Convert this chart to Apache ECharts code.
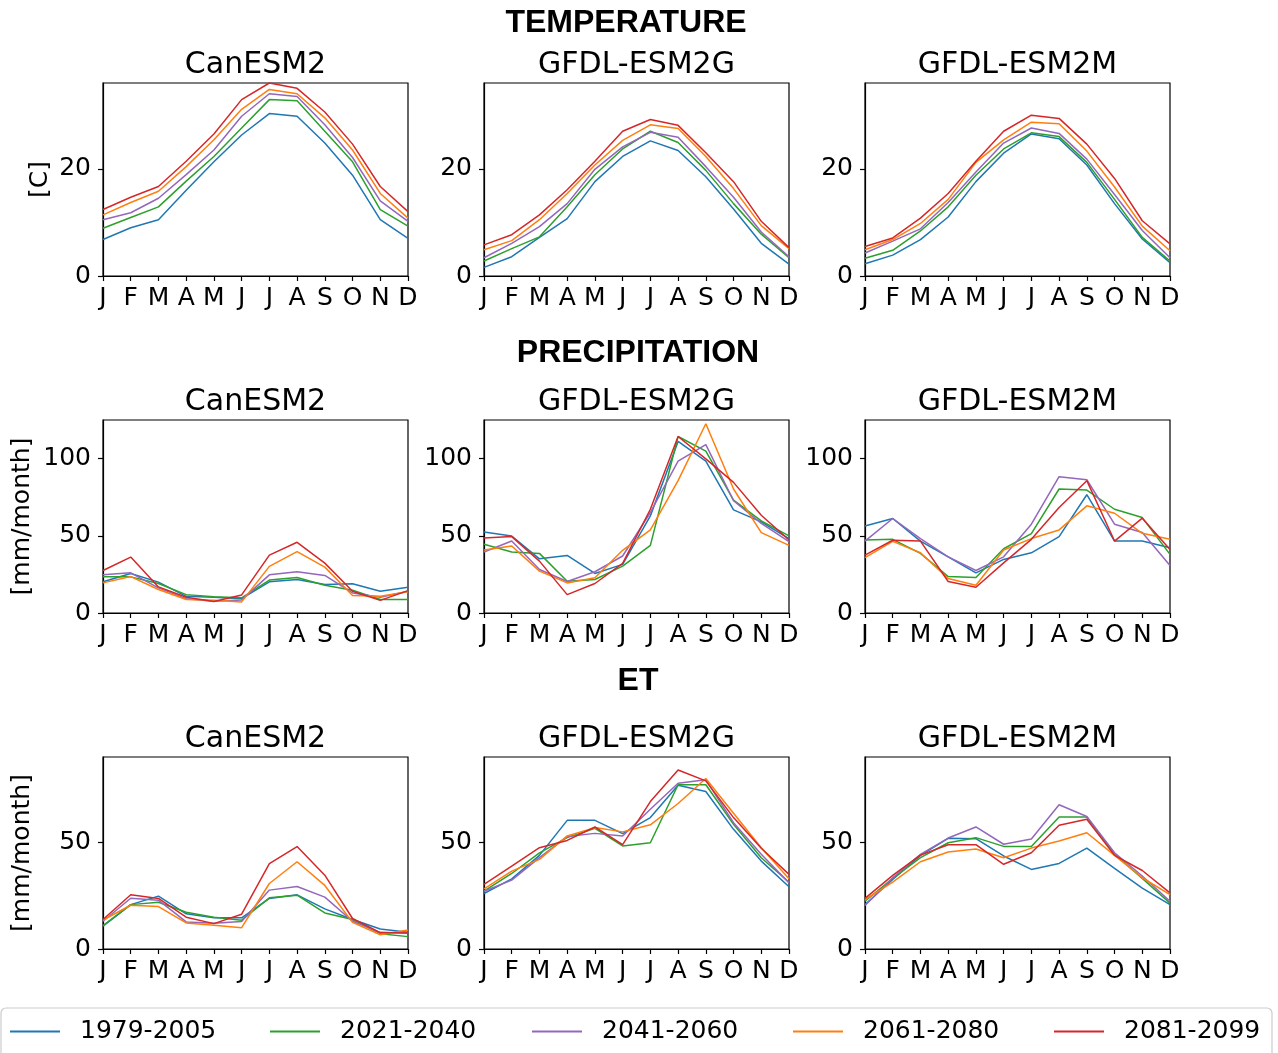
<!DOCTYPE html>
<html>
<head>
<meta charset="utf-8">
<script src="https://cdn.jsdelivr.net/npm/echarts@6/dist/echarts.min.js"></script>
<style>
  html, body { margin: 0; padding: 0; background: #fff; }
  #chart { width: 1278px; height: 1053px; }
</style>
</head>
<body>
<div id="chart"></div>
<script>
// Month initials along every x axis
const months = ['J', 'F', 'M', 'A', 'M', 'J', 'J', 'A', 'S', 'O', 'N', 'D'];

// Periods and their colours
const periods = ['1979-2005', '2021-2040', '2041-2060', '2061-2080', '2081-2099'];
const periodColors = ['#1f77b4', '#2ca02c', '#9467bd', '#ff7f0e', '#d62728'];

const models = ['CanESM2', 'GFDL-ESM2G', 'GFDL-ESM2M'];

// ---------- Temperature [C] ----------
const tempCanESM2 = [
  [6.8, 9.0, 10.5, 16.0, 21.3, 26.3, 30.3, 29.8, 24.8, 18.8, 10.5, 7.0],
  [8.9, 10.9, 12.9, 17.7, 22.3, 27.6, 32.9, 32.7, 27.0, 21.3, 12.4, 9.3],
  [10.5, 11.8, 14.5, 18.9, 23.5, 29.8, 34.0, 33.5, 28.2, 22.1, 14.0, 10.2],
  [11.4, 13.7, 15.8, 20.4, 25.4, 31.1, 34.8, 34.0, 29.5, 23.5, 15.4, 10.8],
  [12.4, 14.7, 16.7, 21.4, 26.5, 32.9, 36.0, 35.0, 30.6, 24.6, 16.7, 12.0]
];
const tempESM2G = [
  [1.6, 3.6, 7.2, 10.7, 17.6, 22.3, 25.2, 23.4, 18.5, 12.5, 6.1, 2.2],
  [2.8, 5.1, 7.3, 12.9, 18.9, 23.7, 27.0, 24.9, 19.7, 13.5, 7.8, 3.4],
  [3.4, 6.1, 9.2, 13.5, 19.9, 24.1, 26.8, 25.9, 20.4, 14.7, 8.2, 3.6],
  [4.9, 6.6, 10.5, 15.4, 20.7, 25.3, 28.2, 27.5, 22.3, 16.3, 9.4, 5.1],
  [5.8, 7.7, 11.4, 16.1, 21.4, 27.0, 29.2, 28.1, 23.0, 17.6, 10.2, 5.3]
];
const tempESM2M = [
  [2.3, 3.9, 6.8, 11.0, 17.6, 22.9, 26.5, 25.6, 20.7, 13.5, 6.9, 2.5],
  [3.3, 4.8, 8.4, 12.9, 18.8, 23.7, 26.7, 26.0, 21.2, 14.3, 7.2, 2.8],
  [4.3, 6.5, 8.8, 13.7, 19.4, 24.8, 27.6, 26.6, 21.8, 15.2, 8.5, 3.4],
  [4.9, 6.8, 9.8, 14.3, 21.2, 25.4, 28.7, 28.4, 23.3, 16.6, 9.3, 4.7],
  [5.5, 7.1, 10.8, 15.4, 21.4, 27.0, 30.0, 29.4, 24.6, 18.2, 10.3, 6.0]
];

// ---------- Precipitation [mm/month] ----------
const precCanESM2 = [
  [20.2, 25.6, 20.0, 10.8, 10.2, 9.3, 20.2, 21.7, 18.4, 18.9, 14.1, 16.7],
  [23.4, 23.4, 19.1, 11.9, 10.6, 9.8, 21.3, 23.0, 18.0, 14.8, 8.7, 8.7],
  [24.7, 26.0, 16.3, 9.3, 7.6, 8.5, 24.7, 26.7, 24.3, 13.0, 10.2, 14.1],
  [19.5, 23.6, 15.2, 8.7, 8.2, 7.2, 30.2, 39.7, 29.7, 11.3, 10.8, 13.7],
  [27.5, 36.2, 16.9, 10.2, 7.4, 11.7, 37.5, 45.8, 32.3, 14.1, 8.2, 14.5]
];
const precESM2G = [
  [52.5, 49.9, 35.1, 37.3, 25.6, 31.5, 62.9, 111.1, 98.3, 66.8, 59.0, 48.2],
  [44.5, 39.5, 38.6, 20.6, 21.7, 30.4, 43.8, 114.3, 104.8, 73.1, 59.7, 49.9],
  [39.5, 46.6, 28.2, 20.4, 26.7, 36.9, 65.1, 98.3, 109.1, 72.7, 58.1, 46.2],
  [40.8, 43.4, 27.1, 19.5, 22.8, 40.6, 53.8, 85.7, 122.6, 80.3, 52.1, 43.8],
  [48.6, 49.5, 33.6, 11.9, 19.1, 32.1, 67.2, 114.3, 99.8, 84.6, 63.3, 47.3]
];
const precESM2M = [
  [56.4, 61.2, 46.6, 36.4, 26.0, 34.7, 39.0, 49.5, 76.6, 46.6, 46.6, 42.3],
  [47.3, 47.7, 38.6, 23.6, 23.0, 41.6, 51.4, 80.3, 79.6, 67.2, 61.8, 38.0],
  [46.6, 61.2, 48.2, 36.4, 27.5, 36.4, 57.5, 88.3, 86.3, 57.5, 52.1, 30.8],
  [35.8, 46.4, 39.0, 22.3, 18.0, 40.8, 48.2, 53.8, 69.4, 64.6, 51.6, 47.7],
  [37.5, 47.1, 46.6, 20.4, 16.7, 32.5, 47.7, 68.3, 85.7, 46.6, 61.4, 41.2]
];

// ---------- ET [mm/month] ----------
const etCanESM2 = [
  [10.7, 20.8, 24.8, 16.5, 14.6, 14.6, 23.7, 25.4, 18.8, 13.8, 9.4, 7.8],
  [11.0, 20.8, 21.9, 17.2, 14.9, 13.5, 24.0, 25.2, 16.9, 13.8, 7.2, 5.8],
  [13.0, 23.8, 22.9, 12.7, 12.1, 12.9, 27.6, 29.3, 24.3, 13.0, 7.7, 7.5],
  [13.6, 20.5, 19.9, 12.2, 11.1, 10.0, 30.7, 40.9, 29.8, 12.5, 6.7, 8.9],
  [13.8, 25.4, 23.7, 14.9, 11.9, 16.3, 40.0, 48.0, 34.6, 14.3, 7.7, 7.5]
];
const etESM2G = [
  [26.0, 32.9, 43.9, 60.3, 60.3, 54.1, 61.6, 76.8, 73.8, 56.1, 41.2, 29.2],
  [27.1, 35.4, 45.1, 52.2, 56.6, 48.3, 49.8, 77.0, 77.0, 58.5, 42.8, 31.3],
  [27.1, 32.3, 42.8, 52.7, 54.2, 53.0, 65.5, 77.7, 79.3, 59.2, 44.4, 31.0],
  [28.2, 36.5, 42.0, 53.0, 56.9, 54.9, 58.2, 68.2, 79.9, 63.6, 47.5, 32.9],
  [30.3, 38.9, 47.5, 50.9, 57.2, 48.9, 69.1, 83.9, 78.8, 61.6, 47.2, 35.0]
];
const etESM2M = [
  [20.8, 32.6, 43.9, 51.9, 51.7, 43.6, 37.3, 40.1, 47.3, 37.8, 28.5, 20.8],
  [22.4, 33.1, 42.8, 49.8, 52.2, 48.1, 48.0, 61.9, 61.9, 44.4, 33.1, 21.5],
  [20.4, 33.4, 44.4, 52.0, 57.2, 49.1, 51.6, 67.6, 62.1, 45.1, 34.2, 22.4],
  [23.2, 31.3, 40.9, 45.5, 46.9, 42.8, 47.3, 50.6, 54.5, 43.9, 33.4, 25.5],
  [23.7, 34.5, 44.0, 48.9, 48.9, 39.7, 45.1, 58.0, 60.8, 43.9, 36.8, 26.3]
];

// Y tick labels per row
const tempTicks = [0, 20];
const precTicks = [0, 50, 100];
const etTicks = [0, 50];

const rows = [
  { title: 'TEMPERATURE', unit: '[C]', data: [tempCanESM2, tempESM2G, tempESM2M], ticks: tempTicks, max: 36, top: 83, height: 193, titleY: 23, titleX: 626 },
  { title: 'PRECIPITATION', unit: '[mm/month]', data: [precCanESM2, precESM2G, precESM2M], ticks: precTicks, max: 125, top: 420, height: 193, titleY: 353, titleX: 638 },
  { title: 'ET', unit: '[mm/month]', data: [etCanESM2, etESM2G, etESM2M], ticks: etTicks, max: 90, top: 757, height: 192, titleY: 681, titleX: 638 }
];
const colLefts = [103, 484, 865];
const colWidth = 305;
const unitX = [40, 22, 22];

const FONT = 'DejaVu Sans';
const grids = [], xAxes = [], yAxes = [], series = [], graphics = [];

rows.forEach((row, r) => {
  graphics.push({
    type: 'text', x: row.titleX, y: row.titleY,
    style: { text: row.title, font: 'bold 32px "Liberation Sans"', fill: '#000', textAlign: 'center', textVerticalAlign: 'middle' }
  });
  graphics.push({
    type: 'text', x: unitX[r], y: row.top + row.height / 2, rotation: Math.PI / 2,
    style: { text: row.unit, font: '25px "' + FONT + '"', fill: '#000', textAlign: 'center', textVerticalAlign: 'middle' }
  });
  models.forEach((m, c) => {
    const idx = grids.length;
    grids.push({
      left: colLefts[c], top: row.top, width: colWidth, height: row.height,
      show: true, borderColor: '#000', borderWidth: 1.2, backgroundColor: 'transparent'
    });
    graphics.push({
      type: 'text', x: colLefts[c] + colWidth / 2, y: row.top - 18,
      style: { text: m, font: '30px "' + FONT + '"', fill: '#000', textAlign: 'center', textVerticalAlign: 'middle' }
    });
    xAxes.push({
      type: 'category', gridIndex: idx, data: months, boundaryGap: false,
      axisLine: { show: true, lineStyle: { color: '#000', width: 1.2 } },
      axisTick: { show: true, length: 5, lineStyle: { color: '#000', width: 1.2 } },
      axisLabel: { color: '#000', fontFamily: FONT, fontSize: 25, margin: 10, interval: 0 },
      splitLine: { show: false }
    });
    yAxes.push({
      type: 'value', gridIndex: idx, min: 0, max: row.max,
      axisLine: { show: true, lineStyle: { color: '#000', width: 1.2 } },
      axisTick: { show: true, length: 5, customValues: row.ticks, lineStyle: { color: '#000', width: 1.2 } },
      axisLabel: { color: '#000', fontFamily: FONT, fontSize: 25, margin: 12, customValues: row.ticks },
      splitLine: { show: false }
    });
    row.data[c].forEach((vals, p) => {
      series.push({
        type: 'line', name: periods[p], xAxisIndex: idx, yAxisIndex: idx,
        data: vals, symbol: 'none', silent: true, animation: false,
        lineStyle: { color: periodColors[p], width: 1.5 },
        itemStyle: { color: periodColors[p] }
      });
    });
  });
});

// Legend frame
graphics.push({
  type: 'rect', shape: { x: 1, y: 1008, width: 1271, height: 60, r: 5 },
  style: { fill: '#fff', stroke: '#cccccc', lineWidth: 1.2 }, z: -1
});

const legendLefts = [10, 270, 532, 793, 1054];
const legends = periods.map((p, i) => ({
  data: [p], left: legendLefts[i], top: 1019, padding: 0,
  icon: 'rect', itemWidth: 50, itemHeight: 2, selectedMode: false,
  textStyle: { color: '#000', fontFamily: FONT, fontSize: 25, padding: [0, 0, 0, 15] }
}));

const chart = echarts.init(document.getElementById('chart'), null, { renderer: 'canvas' });
chart.setOption({
  animation: false,
  backgroundColor: '#fff',
  grid: grids,
  xAxis: xAxes,
  yAxis: yAxes,
  series: series,
  legend: legends,
  graphic: graphics
});
</script>
</body>
</html>
